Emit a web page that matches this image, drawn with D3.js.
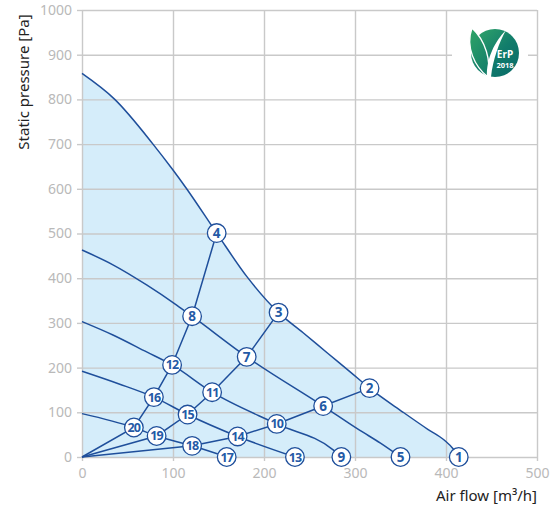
<!DOCTYPE html>
<html>
<head>
<meta charset="utf-8">
<script src="https://cdn.jsdelivr.net/npm/d3@7"></script>
<style>
    body { margin: 0; background: #fff; }
    text { font-family: "Noto Sans", "Open Sans", sans-serif; }
</style>
</head>
<body>
<div id="chart"></div>
<script>
// tick values
var xTicks = [0, 100, 200, 300, 400, 500];
var yTicks = [0, 100, 200, 300, 400, 500, 600, 700, 800, 900, 1000];

// fan speed curves [air flow, pressure], outer curve first
var curveMax = [[0, 858], [36, 800], [78, 700], [100, 642], [114, 603], [148, 501], [181, 404], [216, 323], [243, 278], [270, 232], [295, 190], [316, 154], [353, 100], [380, 62], [398, 38], [408, 18], [414, 0]];
var curve2 = [[0, 463], [34, 430], [71, 385], [104, 340], [121, 315], [181, 224], [265, 114], [305, 60], [328, 31], [350, 0]];
var curve3 = [[0, 303], [34, 273], [71, 235], [99, 206], [143, 145], [214, 74], [276, 16], [285, 0]];
var curve4 = [[0, 192], [40, 164], [79, 134], [116, 95], [171, 46], [234, 0]];
var curve5 = [[0, 97], [57, 66], [82, 47], [121, 25], [159, 0]];

// numbered operating points
var pointIds = [1, 2, 3, 4, 5, 6, 7, 8, 9, 10, 11, 12, 13, 14, 15, 16, 17, 18, 19, 20];
var pointFlow = [414, 316, 216, 148, 350, 265, 181, 121, 285, 214, 143, 99, 234, 171, 116, 79, 159, 121, 82, 57];
var pointPressure = [0, 154, 323, 501, 0, 114, 224, 315, 0, 74, 145, 206, 0, 46, 95, 134, 0, 25, 47, 66];

// system lines from the origin, through point ids
var systemLines = [[20, 16, 12, 8, 4], [19, 15, 11, 7, 3], [18, 14, 10, 6, 2]];

var width = 560;
var height = 508;
var margin = {top: 10, right: 23, bottom: 51, left: 82};
var plotW = width - margin.left - margin.right;
var plotH = height - margin.top - margin.bottom;

var lineColor = '#1f4f9b';
var gridColor = '#c9c9c9';

var svg = d3.select('#chart')
    .append('svg')
    .attr('width', width)
    .attr('height', height);

var g = svg.append('g')
    .attr('transform', 'translate(' + margin.left + ',' + margin.top + ')');

var x = d3.scaleLinear().domain([0, 500]).range([0, plotW]);
var y = d3.scaleLinear().domain([0, 1000]).range([plotH, 0]);

// area under outer curve
var area = d3.area()
    .x(function (d) { return x(d[0]); })
    .y0(y(0))
    .y1(function (d) { return y(d[1]); })
    .curve(d3.curveMonotoneX);

g.append('path')
    .datum(curveMax)
    .attr('d', area)
    .attr('fill', '#d5edfa');

// grid + axes
var xAxis = g.append('g')
    .attr('transform', 'translate(0,' + plotH + ')')
    .call(d3.axisBottom(x).tickValues(xTicks).tickFormat(d3.format('d')).tickSize(-plotH).tickSizeOuter(0).tickPadding(11));
var yAxis = g.append('g')
    .call(d3.axisLeft(y).tickValues(yTicks).tickFormat(d3.format('d')).tickSize(-plotW).tickSizeOuter(0).tickPadding(10));

[xAxis, yAxis].forEach(function (ax) {
    ax.select('.domain').remove();
    ax.selectAll('line')
        .attr('stroke', gridColor)
        .attr('stroke-width', 1.4);
    ax.selectAll('text')
        .attr('fill', '#b9b9b9')
        .style('font-size', '14px');
});

// little outer tick stubs
xAxis.selectAll('.tick').append('line')
    .attr('y1', 0).attr('y2', 4)
    .attr('stroke', gridColor).attr('stroke-width', 1.4);
yAxis.selectAll('.tick').append('line')
    .attr('x1', 0).attr('x2', -5)
    .attr('stroke', gridColor).attr('stroke-width', 1.4);

// white patch behind the logo
svg.append('rect')
    .attr('x', 452)
    .attr('y', 22)
    .attr('width', 76)
    .attr('height', 62)
    .attr('fill', '#fff');

var line = d3.line()
    .x(function (d) { return x(d[0]); })
    .y(function (d) { return y(d[1]); })
    .curve(d3.curveMonotoneX);

// speed curves
g.selectAll('.speed')
    .data([curveMax, curve2, curve3, curve4, curve5])
    .enter()
    .append('path')
    .attr('class', 'speed')
    .attr('d', line)
    .attr('fill', 'none')
    .attr('stroke', lineColor)
    .attr('stroke-width', 1.5);

// system lines
function pointById(id) {
    var i = pointIds.indexOf(id);
    return [pointFlow[i], pointPressure[i]];
}
var sysLine = d3.line()
    .x(function (d) { return x(d[0]); })
    .y(function (d) { return y(d[1]); });

g.selectAll('.system')
    .data(systemLines.map(function (ids) {
        return [[0, 0]].concat(ids.map(pointById));
    }))
    .enter()
    .append('path')
    .attr('class', 'system')
    .attr('d', sysLine)
    .attr('fill', 'none')
    .attr('stroke', lineColor)
    .attr('stroke-width', 1.5);

// markers
var markers = g.selectAll('.marker')
    .data(pointIds)
    .enter()
    .append('g')
    .attr('class', 'marker')
    .attr('transform', function (d, i) {
        return 'translate(' + x(pointFlow[i]) + ',' + y(pointPressure[i]) + ')';
    });
markers.append('circle')
    .attr('r', 9.3)
    .attr('fill', '#fff')
    .attr('stroke', lineColor)
    .attr('stroke-width', 1.3);
markers.append('text')
    .attr('text-anchor', 'middle')
    .attr('dy', '0.36em')
    .attr('fill', '#245aa6')
    .style('font-size', function (d) { return d > 9 ? '12.5px' : '13.5px'; })
    .style('font-weight', 'bold')
    .style('letter-spacing', function (d) { return d > 9 ? '-0.9px' : '0'; })
    .text(function (d) { return d; });

// axis titles
svg.append('text')
    .attr('transform', 'translate(29,82) rotate(-90)')
    .attr('text-anchor', 'middle')
    .attr('fill', '#222')
    .style('font-size', '15px')
    .text('Static pressure [Pa]');

svg.append('text')
    .attr('x', 537)
    .attr('y', 501)
    .attr('text-anchor', 'end')
    .attr('fill', '#222')
    .style('font-size', '15px')
    .text('Air flow [m³/h]');

// ErP 2018 badge
var defs = svg.append('defs');
var grad = defs.append('linearGradient')
    .attr('id', 'erp')
    .attr('x1', '0').attr('y1', '0').attr('x2', '1').attr('y2', '1');
grad.append('stop').attr('offset', '0').attr('stop-color', '#34a96a');
grad.append('stop').attr('offset', '0.55').attr('stop-color', '#117c6b');
grad.append('stop').attr('offset', '1').attr('stop-color', '#0a6a69');
var leafGrad = defs.append('linearGradient')
    .attr('id', 'leaf')
    .attr('x1', '0').attr('y1', '0').attr('x2', '0.6').attr('y2', '1');
leafGrad.append('stop').attr('offset', '0').attr('stop-color', '#2fa566');
leafGrad.append('stop').attr('offset', '1').attr('stop-color', '#15806a');

var logo = svg.append('g').attr('transform', 'translate(495,53)');
logo.append('circle')
    .attr('r', 24)
    .attr('fill', 'url(#erp)');
// left leaf with white rim
logo.append('path')
    .attr('d', 'M-23,-25 C-30,-6 -20,14 -7,24 C-4,8 -9,-12 -23,-25 Z')
    .attr('fill', 'url(#leaf)')
    .attr('stroke', '#fff')
    .attr('stroke-width', 1.4);
// white sweep of second leaf
logo.append('path')
    .attr('d', 'M-8,24 C-9,6 0,-12 11,-23 C4,-10 -2,6 -4,24 Z')
    .attr('fill', '#fff');
logo.append('text')
    .attr('x', 10).attr('y', 5)
    .attr('text-anchor', 'middle')
    .attr('fill', '#fff')
    .style('font-size', '10px')
    .style('font-weight', 'bold')
    .text('ErP');
logo.append('text')
    .attr('x', 10).attr('y', 15)
    .attr('text-anchor', 'middle')
    .attr('fill', '#fff')
    .style('font-size', '7.5px')
    .style('font-weight', 'bold')
    .text('2018');
</script>
</body>
</html>
